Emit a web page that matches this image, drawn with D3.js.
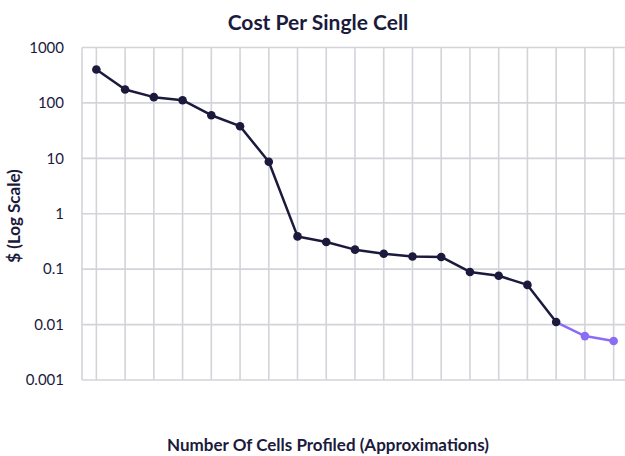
<!doctype html>
<html>
<head>
	<meta charset="utf-8">
	<title>Cost Per Single Cell</title>
	<style>

		body {
			margin: 0;
			background: #fff;
		}

		text {
			font-family: Lato, "Open Sans", sans-serif;
			fill: #1b1a3d;
		}

		.grid line {
			stroke: #d3d3da;
			stroke-width: 1.6;
		}

		.tick-label {
			font-size: 15px;
		}

		.title {
			font-size: 21px;
			font-weight: bold;
		}

		.axis-title {
			font-size: 17px;
			font-weight: bold;
		}

	</style>
</head>
<body>

	<svg width="625" height="456"></svg>

	<script src="https://d3js.org/d3.v7.min.js"></script>
	<script>

		// one point per study, left to right
		const studies = [ "s1", "s2", "s3", "s4", "s5", "s6", "s7", "s8", "s9", "s10",
			"s11", "s12", "s13", "s14", "s15", "s16", "s17", "s18", "s19" ];

		const cost = [ 400, 175, 127, 112, 60, 38, 8.7, 0.39, 0.31, 0.225,
			0.19, 0.169, 0.166, 0.089, 0.076, 0.052, 0.0111, 0.0062, 0.00505 ];

		// last two are projections (purple)
		const projected = [ false, false, false, false, false, false, false, false, false, false,
			false, false, false, false, false, false, false, true, true ];

		const y_ticks = [ 1000, 100, 10, 1, 0.1, 0.01, 0.001 ];
		const y_tick_labels = [ "1000", "100", "10", "1", "0.1", "0.01", "0.001" ];

		const dark = "#1b1a3d",
			purple = "#8b6cf7";

		const svg = d3.select( "svg" );

		const plot_left = 82, plot_right = 628, plot_top = 47.5, plot_bottom = 380;

		const x = d3.scaleBand()
				.domain( studies )
				.range( [ plot_left, plot_right ] );

		const y = d3.scaleLog()
				.domain( [ 0.001, 1000 ] )
				.range( [ plot_bottom, plot_top ] );

		const cx = ( d ) => x( d ) + x.bandwidth() / 2;

		const points = studies.map( ( s, i ) => {
			return { study: s, cost: cost[ i ], projected: projected[ i ] };
		});

		// grid
		const grid = svg.append( "g" ).attr( "class", "grid" );

		grid.selectAll( ".h" )
			.data( y_ticks )
			.enter().append( "line" )
				.attr( "class", "h" )
				.attr( "x1", plot_left )
				.attr( "x2", plot_right )
				.attr( "y1", d => y( d ) )
				.attr( "y2", d => y( d ) );

		grid.append( "line" )
				.attr( "x1", plot_left )
				.attr( "x2", plot_left )
				.attr( "y1", plot_top )
				.attr( "y2", plot_bottom );

		grid.selectAll( ".v" )
			.data( studies )
			.enter().append( "line" )
				.attr( "class", "v" )
				.attr( "x1", cx )
				.attr( "x2", cx )
				.attr( "y1", plot_top )
				.attr( "y2", plot_bottom );

		// y tick labels
		svg.selectAll( ".tick-label" )
			.data( y_ticks )
			.enter().append( "text" )
				.attr( "class", "tick-label" )
				.attr( "x", 64 )
				.attr( "y", d => y( d ) )
				.attr( "dy", "0.35em" )
				.attr( "text-anchor", "end" )
				.text( ( d, i ) => y_tick_labels[ i ] );

		// line segments
		const line = d3.line()
				.x( d => cx( d.study ) )
				.y( d => y( d.cost ) );

		const firstProjected = projected.indexOf( true );

		svg.append( "path" )
				.datum( points.slice( 0, firstProjected ) )
				.attr( "fill", "none" )
				.attr( "stroke", dark )
				.attr( "stroke-width", 2.5 )
				.attr( "stroke-linejoin", "round" )
				.attr( "d", line );

		svg.append( "path" )
				.datum( points.slice( firstProjected - 1 ) )
				.attr( "fill", "none" )
				.attr( "stroke", purple )
				.attr( "stroke-width", 2.5 )
				.attr( "stroke-linejoin", "round" )
				.attr( "d", line );

		svg.selectAll( ".dot" )
			.data( points )
			.enter().append( "circle" )
				.attr( "class", "dot" )
				.attr( "r", 4.3 )
				.attr( "cx", d => cx( d.study ) )
				.attr( "cy", d => y( d.cost ) )
				.attr( "fill", d => d.projected ? purple : dark );

		// titles
		svg.append( "text" )
				.attr( "class", "title" )
				.attr( "x", 318 )
				.attr( "y", 30 )
				.attr( "text-anchor", "middle" )
				.text( "Cost Per Single Cell" );

		svg.append( "text" )
				.attr( "class", "axis-title" )
				.attr( "transform", "translate(20,216) rotate(-90)" )
				.attr( "text-anchor", "middle" )
				.text( "$ (Log Scale)" );

		svg.append( "text" )
				.attr( "class", "axis-title" )
				.attr( "x", 328 )
				.attr( "y", 451 )
				.attr( "text-anchor", "middle" )
				.text( "Number Of Cells Profiled (Approximations)" );

	</script>

</body>
</html>
